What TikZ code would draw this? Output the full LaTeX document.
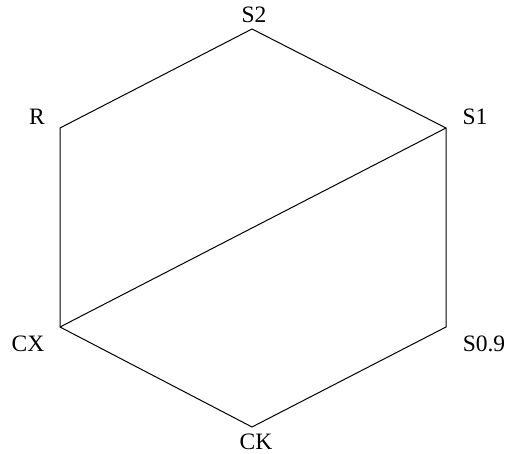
\documentclass[tikz,border=0pt]{standalone}
\usepackage{fontspec}
\setmainfont{Liberation Serif}
\begin{document}
\begin{tikzpicture}[x=1pt,y=-1pt,
  lbl/.style={font=\fontsize{23.5}{27}\selectfont, inner sep=0pt, anchor=center},
  edge/.style={draw=black, line width=1pt}]
\useasboundingbox[fill=white] (0,0) rectangle (507,454);
\coordinate (S2) at (252,29);
\coordinate (R) at (60,128);
\coordinate (S1) at (446,128);
\coordinate (CX) at (60,327);
\coordinate (S09) at (446,327);
\coordinate (CK) at (252,427);
\node[lbl] (lS2) at (254,15) {S2};
\node[lbl] (lR) at (37,117) {R};
\node[lbl] (lS1) at (475,117) {S1};
\node[lbl] (lCX) at (28,344) {CX};
\node[lbl] (lS09) at (484,344) {S0.9};
\node[lbl] (lCK) at (256,442) {CK};
\draw[edge] (R) -- (S2) -- (S1) -- (S09) -- (CK) -- (CX) -- cycle;
\draw[edge] (CX) -- (S1);
\end{tikzpicture}
\end{document}
